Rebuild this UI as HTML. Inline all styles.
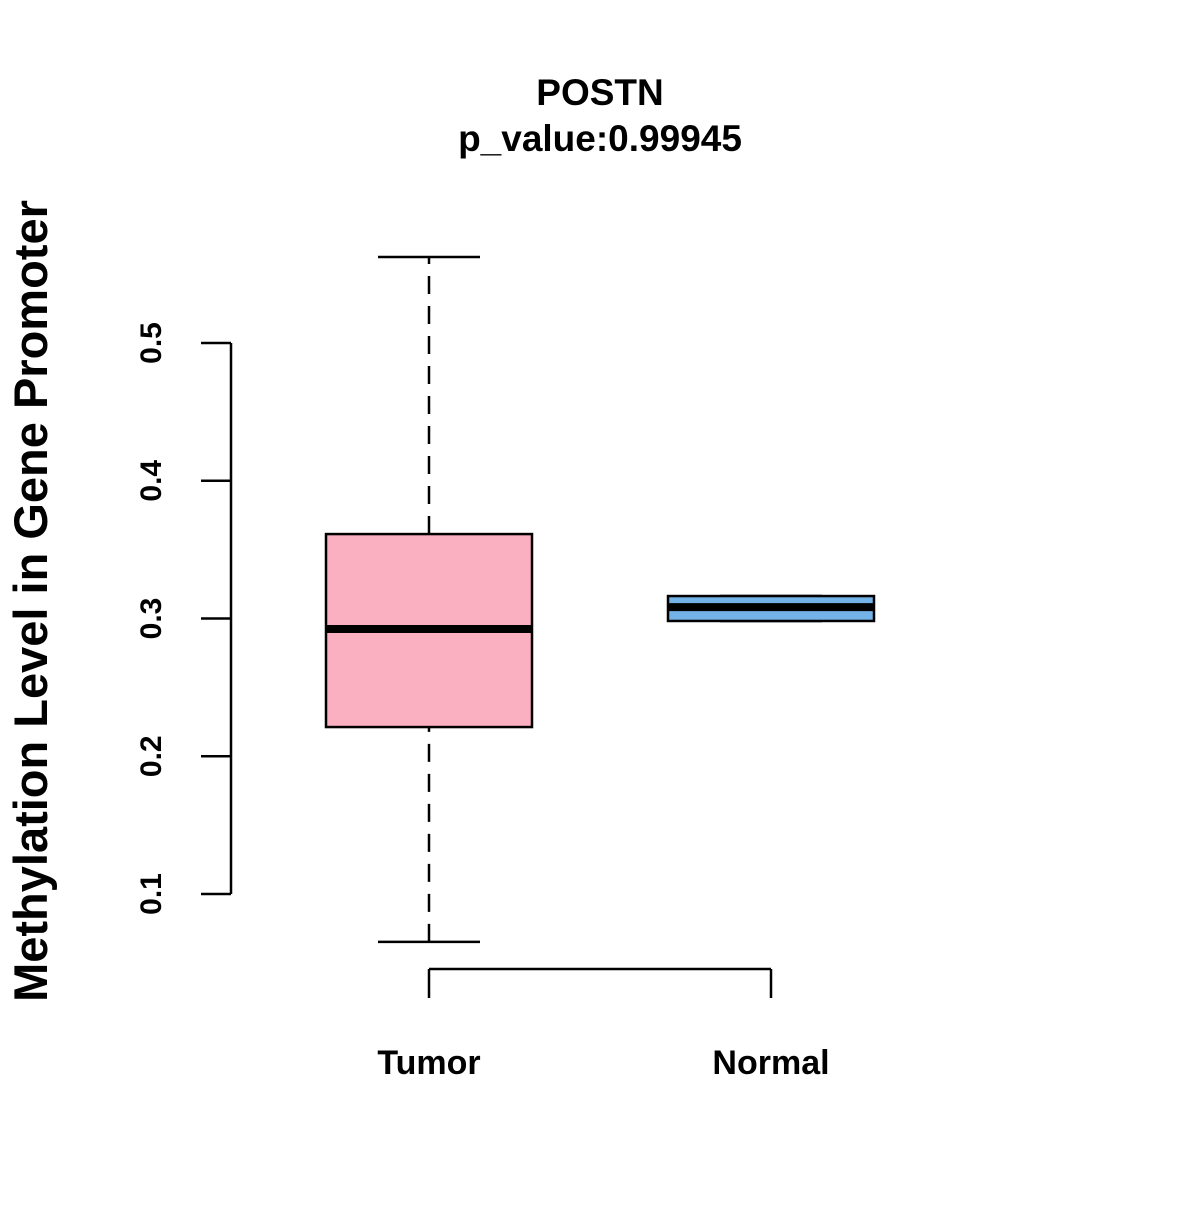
<!DOCTYPE html>
<html><head><meta charset="utf-8"><style>
body{margin:0;background:#fff}
svg text{font-family:"Liberation Sans",Arial,sans-serif;font-weight:bold;fill:#000}
</style></head><body>
<svg id="chart" width="1200" height="1200" xmlns="http://www.w3.org/2000/svg">
<rect width="1200" height="1200" fill="#fff"/>
<text x="600" y="105" font-size="37" text-anchor="middle">POSTN</text>
<text x="600" y="151" font-size="37" text-anchor="middle">p_value:0.99945</text>
<text transform="translate(47,601) rotate(-90)" font-size="47" text-anchor="middle">Methylation Level in Gene Promoter</text>
<g id="yaxis"></g>
<g id="xaxis"></g>
<g id="boxes"></g>
</svg>
<script>
const categories = ["Tumor", "Normal"];
const whiskerLow = [0.0652, 0.2982];
const q1 = [0.2212, 0.2982];
const median = [0.2924, 0.3083];
const q3 = [0.3613, 0.3163];
const whiskerHigh = [0.5624, 0.3163];
const colors = ["#FBB0C2", "#74B3E8"];
const yTicks = [0.1, 0.2, 0.3, 0.4, 0.5];
const yTickLabels = ["0.1", "0.2", "0.3", "0.4", "0.5"];

const NS = "http://www.w3.org/2000/svg";
const y = v => 894 - (v - 0.1) * 1377.5;
const x = i => 429 + i * 342;
function mk(tag, attrs, parent) {
  const e = document.createElementNS(NS, tag);
  for (const k in attrs) e.setAttribute(k, attrs[k]);
  parent.appendChild(e);
  return e;
}
const ya = document.getElementById("yaxis");
const axl = mk("line", {x1: 231, x2: 231, y1: y(yTicks[0]), y2: y(yTicks[yTicks.length - 1]), stroke: "#000", "stroke-width": 2.5}, ya);


yTicks.forEach((t, i) => {
  const tk = mk("line", {x1: 201, x2: 231, y1: y(t), y2: y(t), stroke: "#000", "stroke-width": 2.5}, ya);
  
  
  const tx = mk("text", {transform: `translate(161,${y(t)}) rotate(-90)`, "font-size": 30, "text-anchor": "middle"}, ya);
  tx.textContent = yTickLabels[i];
  
  
});
const xa = document.getElementById("xaxis");
const xl = mk("line", {x1: x(0), x2: x(categories.length - 1), y1: 969, y2: 969, stroke: "#000", "stroke-width": 2.5}, xa);


categories.forEach((c, i) => {
  const tk = mk("line", {x1: x(i), x2: x(i), y1: 969, y2: 998, stroke: "#000", "stroke-width": 2.5}, xa);
  
  
  const tx = mk("text", {x: x(i), y: 1074, "font-size": 34, "text-anchor": "middle"}, xa);
  tx.textContent = c;
  
  
});
const bx = document.getElementById("boxes");
categories.forEach((c, i) => {
  const g = mk("g", {}, bx);
  
  
  const cx = x(i);
  [[whiskerLow[i], q1[i]], [q3[i], whiskerHigh[i]]].forEach(([a, b]) => {
    if (b - a > 0.0001) {
      const w = mk("line", {x1: cx, x2: cx, y1: y(a), y2: y(b), stroke: "#000", "stroke-width": 2.5, "stroke-dasharray": "18,12"}, g);
      
      
    }
  });
  [whiskerLow[i], whiskerHigh[i]].forEach(v => {
    const cap = mk("line", {x1: cx - 51, x2: cx + 51, y1: y(v), y2: y(v), stroke: "#000", "stroke-width": 2.5}, g);
    
    
  });
  const r = mk("rect", {x: cx - 103, width: 206, y: y(q3[i]), height: y(q1[i]) - y(q3[i]), fill: colors[i], stroke: "#000", "stroke-width": 2.5}, g);
  
  
  const m = mk("line", {x1: cx - 103, x2: cx + 103, y1: y(median[i]), y2: y(median[i]), stroke: "#000", "stroke-width": 8}, g);
  
  
});
</script>
</body></html>
